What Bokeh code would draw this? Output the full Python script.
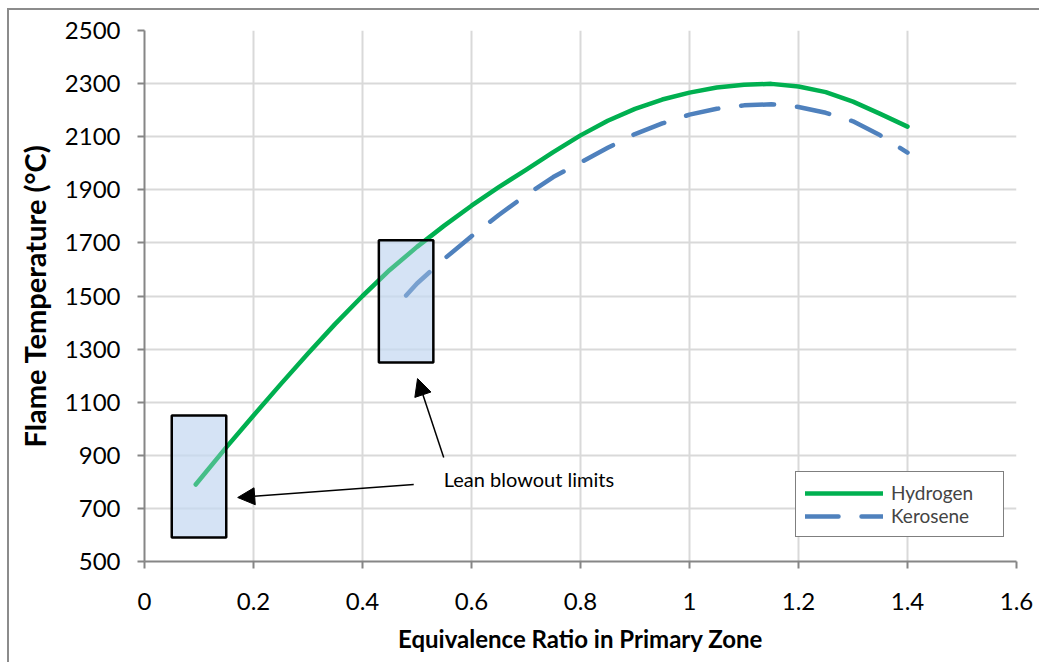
from bokeh.plotting import figure
from bokeh.models import (Range1d, FixedTicker, Arrow, NormalHead, Label, Legend,
                          LegendItem, ColumnDataSource)
from bokeh.embed import file_html
from bokeh.resources import INLINE

# ---- data ----
h2_phi = [0.094, 0.15, 0.2, 0.25, 0.3, 0.35, 0.4, 0.45, 0.5, 0.55, 0.6, 0.65, 0.7, 0.75,
          0.8, 0.85, 0.9, 0.95, 1.0, 1.05, 1.1, 1.15, 1.2, 1.25, 1.3, 1.35, 1.4]
h2_temp = [790, 930, 1050, 1168, 1283, 1395, 1500, 1598, 1685, 1765, 1840, 1910, 1975, 2042,
           2105, 2160, 2205, 2240, 2266, 2285, 2296, 2299, 2289, 2268, 2232, 2186, 2138]

ker_phi = [0.48, 0.5, 0.55, 0.6, 0.65, 0.7, 0.75, 0.8, 0.85, 0.9, 0.95, 1.0, 1.05, 1.1,
           1.15, 1.2, 1.25, 1.3, 1.35, 1.4]
ker_temp = [1502, 1547, 1640, 1725, 1805, 1880, 1948, 2003, 2058, 2110, 2150, 2183, 2205, 2218,
            2222, 2212, 2190, 2158, 2105, 2040]

# lean blowout boxes: phi_min, phi_max, T_min, T_max
box_phi_min = [0.05, 0.43]
box_phi_max = [0.15, 0.53]
box_t_min = [590, 1250]
box_t_max = [1050, 1710]

x_ticks = [0, 0.2, 0.4, 0.6, 0.8, 1.0, 1.2, 1.4, 1.6]
x_tick_labels = {0: "0", 0.2: "0.2", 0.4: "0.4", 0.6: "0.6", 0.8: "0.8", 1.0: "1",
                 1.2: "1.2", 1.4: "1.4", 1.6: "1.6"}
y_ticks = [500, 700, 900, 1100, 1300, 1500, 1700, 1900, 2100, 2300, 2500]

annot_text = "Lean blowout limits"
annot_pos = (0.549, 809)
arrow_tails = [(0.494, 790), (0.549, 892)]
arrow_tips = [(0.171, 741), (0.501, 1189)]

FONT = "Lato"
GRID = "#d9d9d9"
AXIS = "#868686"

p = figure(width=1032, height=654, output_backend="svg", toolbar_location=None,
           x_range=Range1d(0, 1.6), y_range=Range1d(500, 2500),
           min_border_left=135, min_border_right=25, min_border_top=20, min_border_bottom=103)
p.margin = (8, 0, 0, 7)
p.styles = {"border-left": "2px solid #8c8c8c", "border-top": "2px solid #8c8c8c"}
p.outline_line_color = None
p.background_fill_color = "white"
p.border_fill_color = "white"

for ax, ticks in ((p.xaxis[0], x_ticks), (p.yaxis[0], y_ticks)):
    ax.ticker = FixedTicker(ticks=ticks)
    ax.axis_line_color = AXIS
    ax.axis_line_width = 2
    ax.major_tick_line_color = AXIS
    ax.major_tick_line_width = 2
    ax.major_tick_out = 7
    ax.major_tick_in = 0
    ax.minor_tick_line_color = None
    ax.major_label_text_font = FONT
    ax.major_label_text_font_size = "24px"
    ax.major_label_text_color = "black"
    ax.axis_label_text_font = FONT
    ax.axis_label_text_font_style = "bold"
    ax.axis_label_text_color = "black"

p.xaxis[0].major_label_overrides = x_tick_labels
p.xaxis[0].major_label_standoff = 24
p.xaxis[0].axis_label = "Equivalence Ratio in Primary Zone"
p.xaxis[0].axis_label_text_font_size = "24px"
p.xaxis[0].axis_label_standoff = 11
p.yaxis[0].major_label_standoff = 17
p.yaxis[0].axis_label = "Flame Temperature (°C)"
p.yaxis[0].axis_label_text_font_size = "29px"
p.yaxis[0].axis_label_standoff = 10

p.xgrid.ticker = FixedTicker(ticks=x_ticks)
p.ygrid.ticker = FixedTicker(ticks=y_ticks)
p.grid.grid_line_color = GRID
p.grid.grid_line_width = 2

box_src = ColumnDataSource(dict(left=box_phi_min, right=box_phi_max, bottom=box_t_min, top=box_t_max))
# under-layer of box fill (behind curves)
p.quad(left="left", right="right", bottom="bottom", top="top", source=box_src,
       fill_color="#c6d9f1", fill_alpha=0.6, line_color=None)

r_h2 = p.line(h2_phi, h2_temp, line_color="#00b050", line_width=4.5, line_cap="round",
              line_join="round")
r_ker = p.line(ker_phi, ker_temp, line_color="#4f81bd", line_width=4.5, line_dash="33 23",
               line_cap="round", line_join="round")

# over-layer of box fill + border
p.quad(left="left", right="right", bottom="bottom", top="top", source=box_src,
       fill_color="#c6d9f1", fill_alpha=0.35, line_color="black", line_width=2.5)

for (tx, ty), (hx, hy) in zip(arrow_tails, arrow_tips):
    p.add_layout(Arrow(end=NormalHead(size=17, fill_color="black", line_color="black"),
                       x_start=tx, y_start=ty, x_end=hx, y_end=hy,
                       line_color="black", line_width=1.5))

p.add_layout(Label(x=annot_pos[0], y=annot_pos[1], text=annot_text, text_font=FONT,
                   text_font_size="20px", text_baseline="middle", text_align="left",
                   text_color="black"))

legend = Legend(items=[LegendItem(label="Hydrogen", renderers=[r_h2]),
                       LegendItem(label="Kerosene", renderers=[r_ker])],
                location=(651, 24))
legend.label_text_font = FONT
legend.label_text_font_size = "19px"
legend.glyph_width = 78
legend.glyph_height = 20
legend.label_standoff = 8
legend.label_width = 103
legend.spacing = 0
legend.padding = 9
legend.margin = 0
legend.border_line_color = "black"
legend.border_line_width = 1.5
legend.background_fill_alpha = 1
p.add_layout(legend, "center")

open("out.html", "w").write(file_html(p, INLINE))
